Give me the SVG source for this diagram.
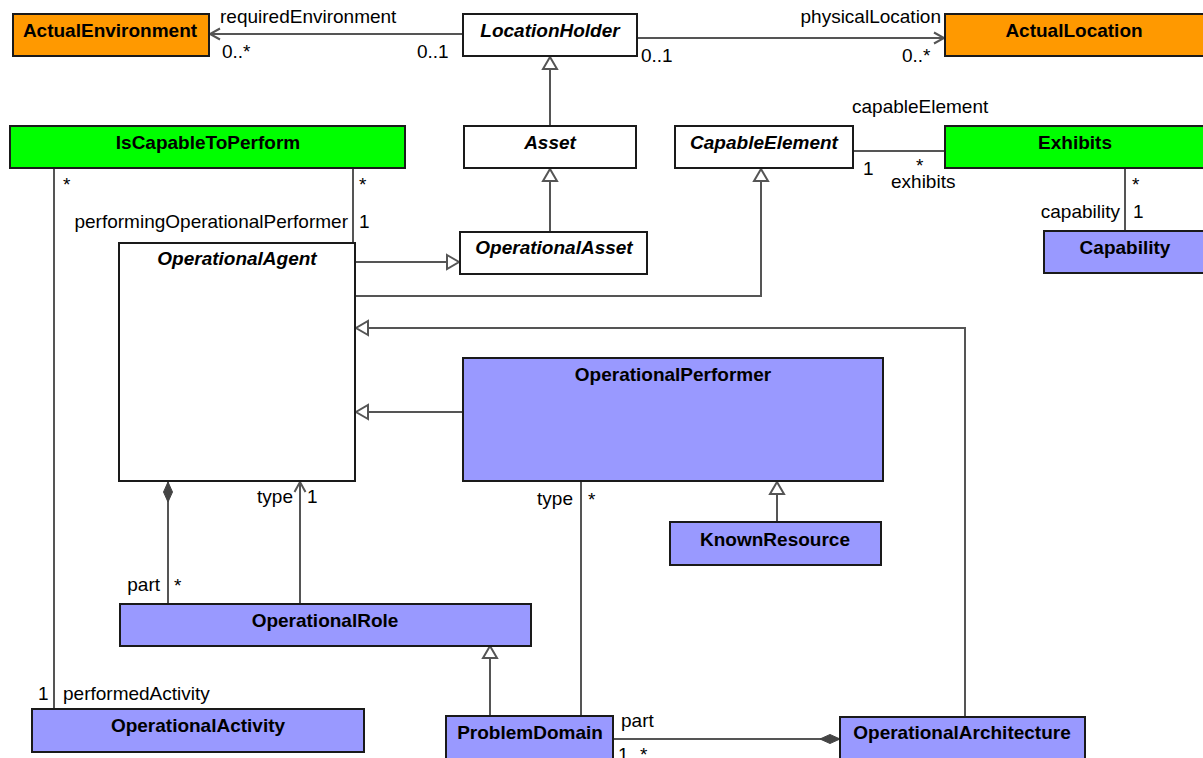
<svg xmlns="http://www.w3.org/2000/svg" width="1203" height="758" viewBox="0 0 1203 758">
<style>
  text { font-family: "Liberation Sans", Arial, sans-serif; font-size: 19px; fill: #000; }
  .nt { font-weight: bold; text-anchor: middle; }
  .ab { font-style: italic; }
  .box { stroke: #1a1a1a; stroke-width: 2; }
  .white { fill: #ffffff; }
  .orange { fill: #ff9900; }
  .green { fill: #00ff00; }
  .blue { fill: #9999ff; }
  .c { fill: none; stroke: #555555; stroke-width: 2; }
  .end { text-anchor: end; }
</style>
<defs>
  <marker id="gen" markerUnits="userSpaceOnUse" markerWidth="14" markerHeight="16" refX="12" refY="7" orient="auto" overflow="visible">
    <path d="M0,0 L12,7 L0,14 Z" fill="#ffffff" stroke="#555555" stroke-width="2" stroke-linejoin="miter"/>
  </marker>
  <marker id="open" markerUnits="userSpaceOnUse" markerWidth="12" markerHeight="12" refX="10" refY="5.5" orient="auto" overflow="visible">
    <path d="M0,0 L10,5.5 L0,11" fill="none" stroke="#555555" stroke-width="2"/>
  </marker>
  <marker id="diam" markerUnits="userSpaceOnUse" markerWidth="22" markerHeight="10" refX="20" refY="4.5" orient="auto" overflow="visible">
    <path d="M0,4.5 L10,0 L20,4.5 L10,9 Z" fill="#444444" stroke="#444444" stroke-width="1"/>
  </marker>
</defs>

<g id="connectors">
  <line class="c" x1="463" y1="34" x2="210" y2="34" marker-end="url(#open)"/>
  <line class="c" x1="637" y1="38" x2="944" y2="38" marker-end="url(#open)"/>
  <line class="c" x1="550" y1="126" x2="550" y2="57" marker-end="url(#gen)"/>
  <line class="c" x1="550" y1="232" x2="550" y2="169" marker-end="url(#gen)"/>
  <line class="c" x1="355" y1="262" x2="459" y2="262" marker-end="url(#gen)"/>
  <polyline class="c" points="355,296 761,296 761,169" marker-end="url(#gen)"/>
  <polyline class="c" points="965,717 965,328 356,328" marker-end="url(#gen)"/>
  <line class="c" x1="463" y1="412" x2="356" y2="412" marker-end="url(#gen)"/>
  <line class="c" x1="777" y1="522" x2="777" y2="482" marker-end="url(#gen)"/>
  <line class="c" x1="490" y1="716" x2="490" y2="646" marker-end="url(#gen)"/>
  <line class="c" x1="853" y1="151" x2="945" y2="151"/>
  <line class="c" x1="1125" y1="168" x2="1125" y2="231"/>
  <line class="c" x1="54" y1="169" x2="54" y2="709"/>
  <line class="c" x1="353" y1="169" x2="353" y2="243"/>
  <line class="c" x1="300" y1="604" x2="300" y2="482" marker-end="url(#open)"/>
  <line class="c" x1="168" y1="604" x2="168" y2="482" marker-end="url(#diam)"/>
  <line class="c" x1="581" y1="481" x2="581" y2="716"/>
  <line class="c" x1="613" y1="739" x2="840" y2="739" marker-end="url(#diam)"/>

  <text x="220" y="23">requiredEnvironment</text>
  <text x="222" y="58">0..*</text>
  <text x="417" y="58">0..1</text>
  <text x="941" y="23" class="end">physicalLocation</text>
  <text x="641" y="62">0..1</text>
  <text x="902" y="62">0..*</text>
  <text x="852" y="113">capableElement</text>
  <text x="863" y="175">1</text>
  <text x="916" y="172">*</text>
  <text x="891" y="188">exhibits</text>
  <text x="1132" y="191">*</text>
  <text x="1120" y="218" class="end">capability</text>
  <text x="1133" y="218">1</text>
  <text x="63" y="191">*</text>
  <text x="359" y="191">*</text>
  <text x="348" y="228" class="end">performingOperationalPerformer</text>
  <text x="359" y="228">1</text>
  <text x="38" y="700">1</text>
  <text x="63" y="700">performedActivity</text>
  <text x="293" y="503" class="end">type</text>
  <text x="307" y="503">1</text>
  <text x="160" y="591" class="end">part</text>
  <text x="174" y="592">*</text>
  <text x="573" y="505" class="end">type</text>
  <text x="588" y="506">*</text>
  <text x="621" y="727">part</text>
  <text x="618" y="761">1</text>
  <text x="640" y="761">*</text>
</g>

<g id="ActualEnvironment">
  <rect class="box orange" x="13" y="14" width="196" height="42"/>
  <text class="nt" x="110" y="37">ActualEnvironment</text>
</g>
<g id="LocationHolder">
  <rect class="box white" x="463" y="14" width="174" height="42"/>
  <text class="nt ab" x="550" y="37">LocationHolder</text>
</g>
<g id="ActualLocation">
  <rect class="box orange" x="945" y="14" width="262" height="42"/>
  <text class="nt" x="1074" y="37">ActualLocation</text>
</g>
<g id="IsCapableToPerform">
  <rect class="box green" x="10" y="126" width="395" height="42"/>
  <text class="nt" x="208" y="149">IsCapableToPerform</text>
</g>
<g id="Asset">
  <rect class="box white" x="464" y="126" width="172" height="42"/>
  <text class="nt ab" x="550" y="149">Asset</text>
</g>
<g id="CapableElement">
  <rect class="box white" x="675" y="126" width="178" height="42"/>
  <text class="nt ab" x="764" y="149">CapableElement</text>
</g>
<g id="Exhibits">
  <rect class="box green" x="945" y="126" width="262" height="42"/>
  <text class="nt" x="1075" y="149">Exhibits</text>
</g>
<g id="Capability">
  <rect class="box blue" x="1044" y="231" width="163" height="42"/>
  <text class="nt" x="1125" y="254">Capability</text>
</g>
<g id="OperationalAsset">
  <rect class="box white" x="460" y="232" width="187" height="42"/>
  <text class="nt ab" x="554" y="254">OperationalAsset</text>
</g>
<g id="OperationalAgent">
  <rect class="box white" x="119" y="243" width="236" height="238"/>
  <text class="nt ab" x="237" y="265">OperationalAgent</text>
</g>
<g id="OperationalPerformer">
  <rect class="box blue" x="463" y="358" width="420" height="123"/>
  <text class="nt" x="673" y="381">OperationalPerformer</text>
</g>
<g id="KnownResource">
  <rect class="box blue" x="670" y="522" width="211" height="43"/>
  <text class="nt" x="775" y="546">KnownResource</text>
</g>
<g id="OperationalRole">
  <rect class="box blue" x="120" y="604" width="411" height="42"/>
  <text class="nt" x="325" y="627">OperationalRole</text>
</g>
<g id="OperationalActivity">
  <rect class="box blue" x="32" y="709" width="332" height="43"/>
  <text class="nt" x="198" y="732">OperationalActivity</text>
</g>
<g id="ProblemDomain">
  <rect class="box blue" x="446" y="716" width="167" height="46"/>
  <text class="nt" x="530" y="739">ProblemDomain</text>
</g>
<g id="OperationalArchitecture">
  <rect class="box blue" x="840" y="717" width="245" height="46"/>
  <text class="nt" x="962" y="739">OperationalArchitecture</text>
</g>
</svg>
